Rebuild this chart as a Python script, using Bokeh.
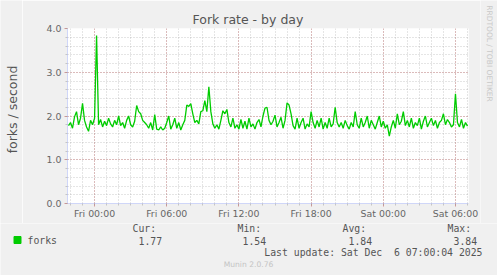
import math
from bokeh.plotting import figure
from bokeh.layouts import column, row
from bokeh.models import Range1d, SingleIntervalTicker, Title, ColumnDataSource
from bokeh.core.properties import value
from bokeh.embed import file_html
from bokeh.resources import INLINE

# ---- data ----
title_text = "Fork rate - by day"
y_label_text = "forks / second"
series_name = "forks"
start_hour = -13 / 6.0      # Thu 21:50, hours relative to Fri 00:00
step_hours = 10 / 60.0      # 10 minute samples
forks = [
    1.78, 1.85, 1.72, 1.98, 2.10, 1.80, 1.95, 2.29, 1.90, 1.75,
    1.65, 1.90, 1.80, 1.95, 3.84, 1.80, 1.92, 1.75, 1.88, 1.78,
    1.95, 1.82, 1.75, 1.90, 1.80, 2.00, 1.78, 1.85, 1.72, 1.90,
    2.00, 1.80, 1.75, 1.88, 2.24, 2.10, 2.05, 1.90, 1.85, 1.80,
    1.72, 1.85, 1.68, 2.03, 1.70, 1.68, 1.75, 1.68, 1.72, 1.85,
    2.00, 1.70, 1.80, 1.95, 1.72, 1.85, 1.68, 1.80, 1.90, 2.25,
    2.22, 2.28, 2.05, 1.85, 1.90, 1.82, 2.10, 2.12, 2.35, 2.10,
    2.67, 2.10, 1.82, 1.72, 1.80, 1.70, 1.90, 2.12, 2.05, 2.15,
    1.85, 1.75, 1.95, 1.72, 1.80, 1.70, 1.92, 1.72, 1.88, 1.70,
    1.95, 1.75, 1.82, 1.70, 1.85, 1.92, 1.75, 2.00, 2.18, 2.20,
    1.90, 1.80, 1.88, 2.02, 1.75, 1.85, 1.97, 1.72, 1.90, 2.30,
    2.25, 2.05, 1.78, 1.70, 1.95, 1.72, 1.85, 1.95, 1.70, 1.82,
    1.75, 2.10, 1.85, 1.72, 1.90, 1.75, 1.95, 1.70, 1.85, 1.72,
    1.95, 1.75, 1.82, 2.20, 1.85, 1.75, 1.85, 1.72, 1.90, 1.78,
    1.70, 1.85, 1.75, 2.10, 1.80, 1.72, 1.95, 1.75, 1.85, 2.00,
    1.72, 1.90, 1.80, 1.70, 1.85, 2.00, 1.75, 1.88, 1.72, 1.80,
    1.54, 1.75, 1.90, 1.72, 2.05, 1.80, 1.88, 2.10, 1.78, 1.90,
    1.75, 1.95, 1.72, 1.85, 1.78, 1.95, 1.70, 1.88, 2.00, 1.75,
    1.85, 1.95, 1.78, 1.90, 1.72, 1.85, 1.90, 2.05, 1.80, 1.92,
    1.85, 1.75, 1.80, 2.51, 1.85, 1.75, 1.92, 1.72, 1.85, 1.77,
]
hours = [start_hour + i * step_hours for i in range(len(forks))]

x_tick_values = [0, 6, 12, 18, 24, 30]
x_tick_labels = ["Fri 00:00", "Fri 06:00", "Fri 12:00", "Fri 18:00", "Sat 00:00", "Sat 06:00"]
y_tick_values = [0, 1, 2, 3, 4]
y_tick_labels = ["0.0", "1.0", "2.0", "3.0", "4.0"]

stat_headers = ["Cur:", "Min:", "Avg:", "Max:"]
stat_values = ["1.77", "1.54", "1.84", "3.84"]
last_update = "Last update: Sat Dec \u00a06 07:00:04 2025"
footer = "Munin 2.0.76"
side_text = "RRDTOOL / TOBI OETIKER"

# ---- styling ----
BG = "#F0F0F0"
FONT = "#666666"
TEXT = "#555555"
AXIS = "#CFD6F8"
GREEN = "#00CC00"
MONO = "DejaVu Sans Mono"
MS = "9.8px"


def blank(w, h, x0, y0):
    """Helper panel whose data coordinates equal page pixels."""
    f = figure(width=w, height=h, x_range=Range1d(x0, x0 + w), y_range=Range1d(y0 + h, y0),
               x_axis_type=None, y_axis_type=None, output_backend="svg",
               toolbar_location=None, min_border=0, title=None, frame_align=False)
    f.background_fill_color = BG
    f.border_fill_color = BG
    f.outline_line_color = None
    return f


# ---- main chart ----
p = figure(width=458, height=223, output_backend="svg", toolbar_location=None,
           x_range=Range1d(-2.25, 31.0833), y_range=Range1d(0, 4),
           min_border_left=45, min_border_right=12, min_border_top=28,
           min_border_bottom=20, title=None, frame_align=False)
p.background_fill_color = "white"
p.border_fill_color = BG
p.outline_line_color = None

p.xaxis.ticker = SingleIntervalTicker(interval=6, num_minor_ticks=6)
p.yaxis.ticker = SingleIntervalTicker(interval=1, num_minor_ticks=5)
p.xaxis.major_label_overrides = {v: t for v, t in zip(x_tick_values, x_tick_labels)}
p.yaxis.major_label_overrides = {v: t for v, t in zip(y_tick_values, y_tick_labels)}

for ax in (p.xaxis, p.yaxis):
    ax.axis_line_color = AXIS
    ax.axis_line_width = 1
    ax.major_tick_line_color = "#C04040"
    ax.major_tick_line_alpha = 0.5
    ax.major_tick_out = 3
    ax.major_tick_in = 0
    ax.minor_tick_line_color = "#999999"
    ax.minor_tick_line_alpha = 0.5
    ax.minor_tick_out = 2
    ax.minor_tick_in = 0
    ax.major_label_text_font = "DejaVu Sans"
    ax.major_label_text_font_size = "9.4px"
    ax.major_label_text_color = FONT
p.xaxis.major_label_standoff = 1
p.yaxis.major_label_standoff = 3

for g in (p.xgrid, p.ygrid):
    g.grid_line_color = "#C04040"
    g.grid_line_alpha = 0.5
    g.grid_line_dash = "1 2"
    g.minor_grid_line_color = "#999999"
    g.minor_grid_line_alpha = 0.5
    g.minor_grid_line_dash = "1 2"

p.line(hours, forks, line_color=GREEN, line_width=1.3)

p.add_layout(Title(text=title_text, align="left", offset=125, standoff=3,
                   text_font="DejaVu Sans", text_font_size="12.5px",
                   text_font_style="normal", text_color=TEXT), "above")

# ---- left panel: y label ----
left = blank(22, 223, 0, 0)
left.text(x=[12], y=[109], text=[y_label_text], angle=math.pi / 2,
          text_font=value("DejaVu Sans"), text_font_size=value("12.5px"),
          text_color=TEXT, text_align="center", text_baseline="middle")

# ---- right panel: rrdtool credit ----
right = blank(17, 223, 480, 0)
right.text(x=[488.5], y=[53], text=[side_text], angle=-math.pi / 2,
           text_font=value("DejaVu Sans"), text_font_size=value("7.5px"),
           text_color="#C8C8C8", text_align="center", text_baseline="middle")

# ---- bottom panel: legend and footer ----
bottom = blank(497, 52, 0, 223)
bottom.scatter(x=[17], y=[239.5], marker="square", size=7,
               fill_color=GREEN, line_color=GREEN)
header_x = [132, 237, 342, 447]
value_x = [138, 242, 348, 453]
rows = ColumnDataSource(dict(
    x=[27] + header_x + value_x,
    y=[240] + [228] * len(header_x) + [240] * len(value_x),
    t=[series_name] + stat_headers + stat_values,
))
bottom.text(x="x", y="y", text="t", source=rows, text_font=value(MONO),
            text_font_size=value(MS), text_color=TEXT, text_align="left",
            text_baseline="middle")
bottom.text(x=[482], y=[252], text=[last_update], text_font=value(MONO),
            text_font_size=value(MS), text_color=TEXT, text_align="right",
            text_baseline="middle")
bottom.text(x=[248], y=[264], text=[footer], text_font=value("DejaVu Sans"),
            text_font_size=value("7.6px"), text_color="#C4C4C4", text_align="center",
            text_baseline="middle")

layout = column(row(left, p, right), bottom)
open("out.html", "w").write(file_html(layout, INLINE))
